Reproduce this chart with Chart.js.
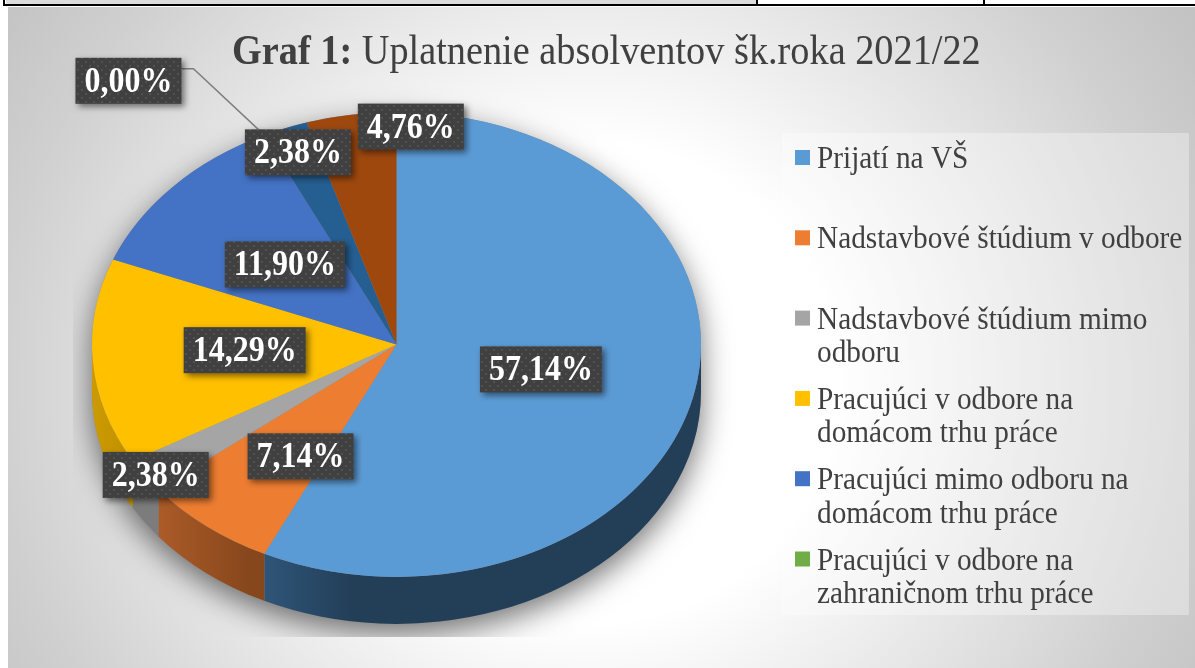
<!DOCTYPE html>
<html>
<head>
<meta charset="utf-8">
<script src="https://cdn.jsdelivr.net/npm/chart.js@4"></script>
<style>
  html, body { margin: 0; padding: 0; background: #fff; }
  #wrap { position: relative; width: 1195px; height: 668px; }
</style>
</head>
<body>
<div id="wrap"><canvas id="chart" width="1195" height="668"></canvas></div>
<script>
// legend in the picture stops at the sixth entry, the last two slices have no visible name
const categories = [
  'Prijatí na VŠ',
  'Nadstavbové štúdium v odbore',
  'Nadstavbové štúdium mimo odboru',
  'Pracujúci v odbore na domácom trhu práce',
  'Pracujúci mimo odboru na domácom trhu práce',
  'Pracujúci v odbore na zahraničnom trhu práce',
  '',
  ''
];
const values = [57.14, 7.14, 2.38, 14.29, 11.90, 0.00, 2.38, 4.76];
const valueLabels = ['57,14%', '7,14%', '2,38%', '14,29%', '11,90%', '0,00%', '2,38%', '4,76%'];
const sliceColors = ['#5B9BD5', '#ED7D31', '#A5A5A5', '#FFC000', '#4472C4', '#70AD47', '#255E91', '#9E480E'];
const wallColors = [
  ['#2E5578', '#233E57'], ['#AB5B28', '#87471C'], ['#7C7C7C', '#7C7C7C'], ['#CC9A00', '#C09000'],
  ['#33558F', '#33558F'], ['#54813A', '#54813A'], ['#1C466D', '#1C466D'], ['#763508', '#763508']
];
const legendLines = [
  ['Prijatí na VŠ'],
  ['Nadstavbové štúdium v odbore'],
  ['Nadstavbové štúdium mimo', 'odboru'],
  ['Pracujúci v odbore na', 'domácom trhu práce'],
  ['Pracujúci mimo odboru na', 'domácom trhu práce'],
  ['Pracujúci v odbore na', 'zahraničnom trhu práce']
];
const titleBold = 'Graf 1:';
const titleRest = ' Uplatnenie absolventov šk.roka 2021/22';

// nudge of each label from the middle of its slice
const labelNudge = [[-4, -1], [-1, 21], [-115, 65], [0, -3], [0, -1], [-202, -159], [-43, -84], [37, -103]];

const SERIF = '"Liberation Serif", "Times New Roman", serif';
const TEXT = '#404040';
const squash = 232 / 304; // tilt of the pie
const depth = 47;
const textStretch = 1.09; // the source screenshot is a bit taller than wide

function dotPattern(ctx) {
  const tile = document.createElement('canvas');
  tile.width = 8;
  tile.height = 8;
  const t = tile.getContext('2d');
  t.fillStyle = '#404040';
  t.fillRect(0, 0, 8, 8);
  t.fillStyle = '#515151';
  t.fillRect(1, 1, 2, 2);
  t.fillRect(5, 5, 2, 2);
  return ctx.createPattern(tile, 'repeat');
}

function tallText(ctx, text, x, y) {
  ctx.save();
  ctx.translate(x, y);
  ctx.scale(1, textStretch);
  ctx.fillText(text, 0, 0);
  ctx.restore();
}

const backdrop = {
  id: 'backdrop',
  beforeDraw(chart) {
    const ctx = chart.ctx;
    ctx.save();
    // page table line above the graphic
    ctx.fillStyle = '#fff';
    ctx.fillRect(0, 0, 1195, 668);
    ctx.fillStyle = '#dcdcdc';
    ctx.fillRect(6, 0, 751, 5);
    ctx.fillStyle = '#000';
    ctx.fillRect(3, 4, 1192, 2);
    ctx.fillRect(3, 0, 2, 6);
    ctx.fillRect(756, 0, 2, 6);
    ctx.fillRect(983, 0, 2, 6);

    // chart sheet, path gradient
    ctx.beginPath();
    ctx.rect(8, 7, 1187, 661);
    ctx.clip();
    ctx.translate(590, 383);
    ctx.scale(1, 1 / 1.04);
    const g = ctx.createRadialGradient(0, 0, 0, 0, 0, 710);
    g.addColorStop(0, '#ffffff');
    g.addColorStop(0.35, '#ffffff');
    g.addColorStop(0.833, '#d0d0d0');
    g.addColorStop(1, '#c3c3c3');
    ctx.fillStyle = g;
    ctx.fillRect(-800, -800, 1600, 1600);
    ctx.restore();
  }
};

const pie3d = {
  id: 'pie3d',
  beforeDatasetsDraw(chart) {
    const ctx = chart.ctx;
    const arcs = chart.getDatasetMeta(0).data;
    const { x: cx, y: cy, outerRadius: rx } = arcs[0];
    const ry = rx * squash;

    // soft shadow, cut off by a rectangle like the original
    ctx.save();
    ctx.beginPath();
    ctx.rect(73, 85, 665, 552);
    ctx.clip();
    ctx.shadowColor = 'rgba(0,0,0,0.55)';
    ctx.shadowBlur = 30;
    ctx.shadowOffsetY = 10;
    ctx.fillStyle = '#888';
    ctx.beginPath();
    ctx.ellipse(cx, cy, rx, ry, 0, Math.PI, 0);
    ctx.ellipse(cx, cy + depth, rx, ry, 0, 0, Math.PI);
    ctx.closePath();
    ctx.fill();
    ctx.restore();

    // side wall, only the front half is visible
    arcs.forEach((arc, i) => {
      const a1 = Math.max(arc.startAngle, 0);
      const a2 = Math.min(arc.endAngle, Math.PI);
      if (a2 <= a1) return;
      const xa = cx + rx * Math.cos(a1);
      const xb = cx + rx * Math.cos(a2);
      const g = ctx.createLinearGradient(xb, 0, Math.min(xb + 90, xa), 0);
      g.addColorStop(0, wallColors[i][0]);
      g.addColorStop(1, wallColors[i][1]);
      ctx.fillStyle = g;
      ctx.beginPath();
      ctx.ellipse(cx, cy, rx, ry, 0, a1, a2);
      ctx.ellipse(cx, cy + depth, rx, ry, 0, a2, a1, true);
      ctx.closePath();
      ctx.fill();
    });

    // top face is the normal pie, squashed
    ctx.save();
    ctx.translate(cx, cy);
    ctx.scale(1, squash);
    ctx.translate(-cx, -cy);
  },
  afterDatasetsDraw(chart) {
    chart.ctx.restore();
  }
};

const overlays = {
  id: 'overlays',
  afterDraw(chart) {
    const ctx = chart.ctx;
    const arcs = chart.getDatasetMeta(0).data;

    // title
    ctx.save();
    ctx.fillStyle = TEXT;
    ctx.textBaseline = 'alphabetic';
    ctx.textAlign = 'left';
    ctx.font = 'bold 38.3px ' + SERIF;
    tallText(ctx, titleBold, 232, 64);
    const w = ctx.measureText(titleBold).width;
    ctx.font = '38.3px ' + SERIF;
    tallText(ctx, titleRest, 232 + w, 64);
    ctx.restore();

    // legend
    ctx.save();
    ctx.fillStyle = 'rgba(255,255,255,0.33)';
    ctx.fillRect(782, 133, 407, 482);
    ctx.font = '29.3px ' + SERIF;
    ctx.textBaseline = 'alphabetic';
    legendLines.forEach((lines, i) => {
      const y = 167 + i * 80.3;
      ctx.fillStyle = sliceColors[i];
      ctx.fillRect(795, y - 17, 15, 15);
      ctx.fillStyle = TEXT;
      lines.forEach((line, j) => tallText(ctx, line, 817, y + 1 + j * 33.5));
    });
    ctx.restore();

    // data labels
    const fill = dotPattern(ctx);
    const font = 'bold 32px ' + SERIF;
    arcs.forEach((arc, i) => {
      const mid = (arc.startAngle + arc.endAngle) / 2;
      const r = arc.outerRadius / 2;
      const lx = arc.x + r * Math.cos(mid) + labelNudge[i][0];
      const ly = arc.y + r * squash * Math.sin(mid) + labelNudge[i][1];

      ctx.save();
      ctx.font = font;
      const bw = ctx.measureText(valueLabels[i]).width + 18;
      const bh = 46;

      // leader line for the empty slice
      if (values[i] === 0) {
        ctx.strokeStyle = '#7f7f7f';
        ctx.lineWidth = 1.5;
        ctx.beginPath();
        ctx.moveTo(lx + bw / 2, ly - 12);
        ctx.lineTo(lx + bw / 2 + 12, ly - 12);
        ctx.lineTo(arc.x + arc.outerRadius * Math.cos(mid), arc.y + arc.outerRadius * squash * Math.sin(mid));
        ctx.stroke();
      }

      ctx.shadowColor = 'rgba(0,0,0,0.5)';
      ctx.shadowBlur = 6;
      ctx.shadowOffsetX = 3;
      ctx.shadowOffsetY = 3;
      ctx.fillStyle = fill;
      ctx.fillRect(lx - bw / 2, ly - bh / 2, bw, bh);
      ctx.shadowColor = 'transparent';
      ctx.fillStyle = '#fff';
      ctx.textAlign = 'center';
      ctx.textBaseline = 'alphabetic';
      tallText(ctx, valueLabels[i], lx, ly + 11);
      ctx.restore();
    });
  }
};

new Chart(document.getElementById('chart'), {
  type: 'pie',
  data: {
    labels: categories,
    datasets: [{
      data: values,
      backgroundColor: sliceColors,
      borderWidth: 0,
      clip: 2000
    }]
  },
  options: {
    responsive: false,
    animation: false,
    layout: { padding: { left: 92, right: 494, top: 40, bottom: 19 } },
    plugins: {
      legend: { display: false },
      tooltip: { enabled: false }
    }
  },
  plugins: [backdrop, pie3d, overlays]
});
</script>
</body>
</html>
